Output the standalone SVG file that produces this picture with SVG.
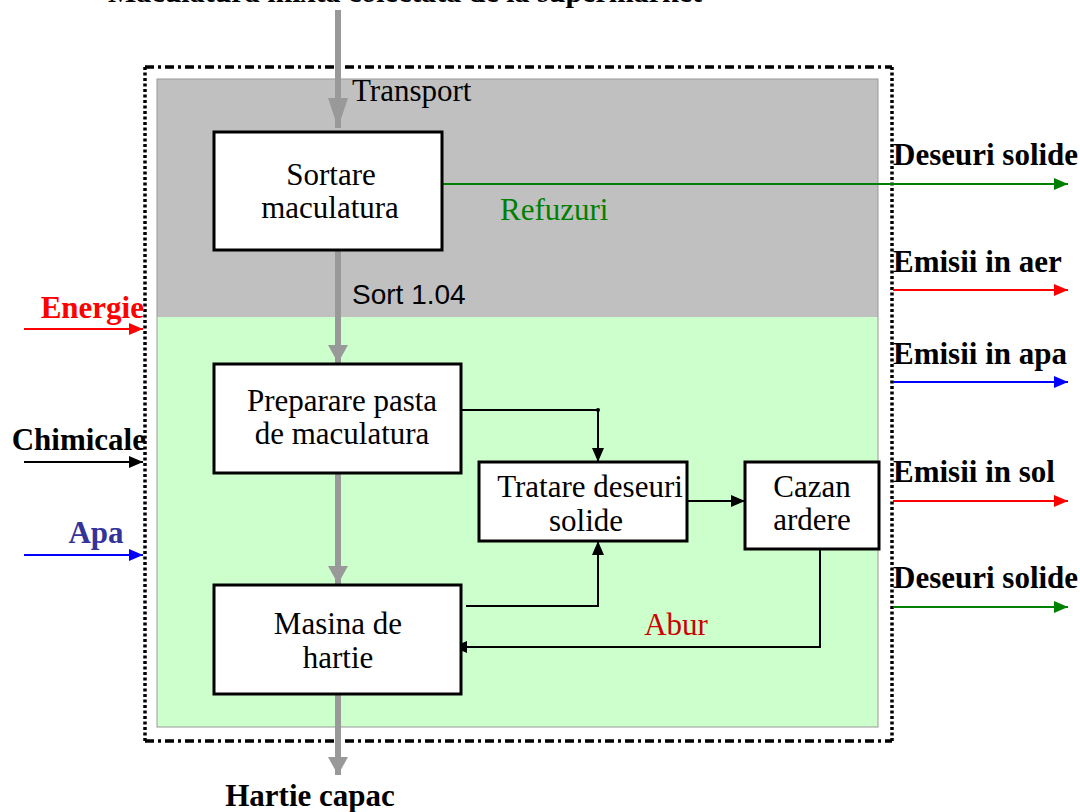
<svg xmlns="http://www.w3.org/2000/svg" width="1080" height="812" viewBox="0 0 1080 812">
<style>
.box{fill:#fff;stroke:#000;stroke-width:3}
.t{font-family:"Liberation Serif","Times New Roman",serif;font-size:31px;fill:#000}
.b{font-family:"Liberation Serif","Times New Roman",serif;font-size:31px;font-weight:bold;fill:#000}
.c{text-anchor:middle}
.gray{stroke:#999;stroke-width:6;fill:none}
.thin{stroke:#000;stroke-width:2;fill:none}
</style>
<defs>
<marker id="ga" markerUnits="userSpaceOnUse" viewBox="0 0 18 20" refX="18" refY="10" markerWidth="18" markerHeight="20" orient="auto"><path d="M0,0 L18,10 L0,20 Z" fill="#999"/></marker>
<marker id="gaL" markerUnits="userSpaceOnUse" viewBox="0 0 30 20" refX="30" refY="10" markerWidth="30" markerHeight="20" orient="auto"><path d="M0,0 L30,10 L0,20 Z" fill="#999"/></marker>
<marker id="ab" markerUnits="userSpaceOnUse" viewBox="0 0 14 12" refX="14" refY="6" markerWidth="14" markerHeight="12" orient="auto"><path d="M0,0 L14,6 L0,12 Z" fill="#000"/></marker>
<marker id="ar" markerUnits="userSpaceOnUse" viewBox="0 0 14 12" refX="14" refY="6" markerWidth="14" markerHeight="12" orient="auto"><path d="M0,0 L14,6 L0,12 Z" fill="#f00"/></marker>
<marker id="abl" markerUnits="userSpaceOnUse" viewBox="0 0 14 12" refX="14" refY="6" markerWidth="14" markerHeight="12" orient="auto"><path d="M0,0 L14,6 L0,12 Z" fill="#00f"/></marker>
<marker id="ag" markerUnits="userSpaceOnUse" viewBox="0 0 14 12" refX="14" refY="6" markerWidth="14" markerHeight="12" orient="auto"><path d="M0,0 L14,6 L0,12 Z" fill="#008000"/></marker>
</defs>

<g id="background">
<rect x="157" y="79" width="721" height="238" fill="#c0c0c0"/>
<rect x="157" y="317" width="721" height="410" fill="#ccffcc"/>
<rect x="157" y="79" width="721" height="648" fill="none" stroke="#999" stroke-width="1"/>
<path d="M145,67 H892 M145,741 H892" stroke="#000" stroke-width="3.5" fill="none" stroke-dasharray="9 4 3 4"/>
<path d="M145,67 V741 M892,67 V741" stroke="#000" stroke-width="3.5" fill="none" stroke-dasharray="3 2.5"/>
</g>

<g id="top-label"><text class="b" x="108" y="2" style="font-size:30px">Maculatura mixta colectata de la supermarket</text></g>

<g id="connectors">
<path class="gray" d="M338,10 V128" marker-end="url(#gaL)"/>
<path class="gray" d="M338,250 V363" marker-end="url(#ga)"/>
<path class="gray" d="M338,473 V584" marker-end="url(#ga)"/>
<path class="gray" d="M338,694 V775" marker-end="url(#ga)"/>
<path d="M437,184 H1068" stroke="#008000" stroke-width="2" fill="none" marker-end="url(#ag)"/>
<path class="thin" d="M461,410 H598 V462" marker-end="url(#ab)"/>
<circle cx="598" cy="410" r="2" fill="#000"/>
<path class="thin" d="M466,606 H598 V541" marker-end="url(#ab)"/>
<path class="thin" d="M687,501 H745" marker-end="url(#ab)"/>
<path class="thin" d="M820,549 V647 H453" marker-end="url(#ab)"/>
<path d="M24,329 H143" stroke="#f00" stroke-width="2" fill="none" marker-end="url(#ar)"/>
<path d="M24,462 H143" stroke="#000" stroke-width="2" fill="none" marker-end="url(#ab)"/>
<path d="M24,555 H143" stroke="#00f" stroke-width="2" fill="none" marker-end="url(#abl)"/>
<path d="M893,290 H1068" stroke="#f00" stroke-width="2" fill="none" marker-end="url(#ar)"/>
<path d="M893,382 H1068" stroke="#00f" stroke-width="2" fill="none" marker-end="url(#abl)"/>
<path d="M893,501 H1068" stroke="#f00" stroke-width="2" fill="none" marker-end="url(#ar)"/>
<path d="M893,607 H1068" stroke="#008000" stroke-width="2" fill="none" marker-end="url(#ag)"/>
</g>

<g id="labels">
<text class="t" x="352" y="101">Transport</text>
<text x="352" y="304" font-family="Liberation Sans, Arial, sans-serif" font-size="28" fill="#000">Sort 1.04</text>
<text class="t" x="500" y="220" style="fill:#008000">Refuzuri</text>
<text class="t" x="676" y="635" style="fill:#cc0000;text-anchor:middle">Abur</text>
<text class="b" x="893" y="165">Deseuri solide</text>
<text class="b" x="893" y="272">Emisii in aer</text>
<text class="b" x="893" y="364">Emisii in apa</text>
<text class="b" x="893" y="482">Emisii in sol</text>
<text class="b" x="893" y="588">Deseuri solide</text>
<text class="b" x="144" y="318" style="fill:#f00;text-anchor:end">Energie</text>
<text class="b" x="146" y="450" style="text-anchor:end">Chimicale</text>
<text class="b" x="96" y="543" style="fill:#333399;text-anchor:middle">Apa</text>
<text class="b c" x="310" y="806">Hartie capac</text>
</g>

<g id="sortare"><rect class="box" x="214" y="132" width="228" height="118"/>
<text class="t c" x="331" y="185">Sortare</text><text class="t c" x="330" y="218">maculatura</text></g>
<g id="preparare"><rect class="box" x="214" y="364" width="247" height="109"/>
<text class="t c" x="342" y="411">Preparare pasta</text><text class="t c" x="342" y="444">de maculatura</text></g>
<g id="masina"><rect class="box" x="214" y="585" width="247" height="109"/>
<text class="t c" x="338" y="634">Masina de</text><text class="t c" x="338" y="668">hartie</text></g>
<g id="tratare"><rect class="box" x="479" y="462" width="208" height="79"/>
<text class="t c" x="590" y="497">Tratare deseuri</text><text class="t c" x="586" y="531">solide</text></g>
<g id="cazan"><rect class="box" x="745" y="462" width="134" height="87"/>
<text class="t c" x="812" y="497">Cazan</text><text class="t c" x="812" y="530">ardere</text></g>
</svg>
